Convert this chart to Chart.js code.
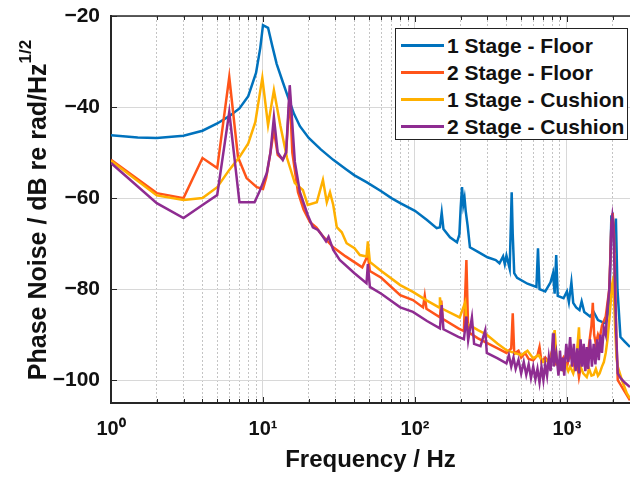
<!DOCTYPE html>
<html>
<head>
<meta charset="utf-8">
<script src="https://cdn.jsdelivr.net/npm/chart.js@4.4.0/dist/chart.umd.min.js"></script>
<style>
  html, body { margin: 0; padding: 0; background: #fff; }
  #wrap { position: relative; width: 630px; height: 477px; overflow: hidden; font-family: "Liberation Sans", Arial, sans-serif; }
  #ytitle { position: absolute; width: 440px; height: 30px; line-height: 30px; left: -183px; top: 195px;
            transform: rotate(-90deg); text-align: center; font-weight: bold; font-size: 25px; color: #111; white-space: nowrap; }
  #ytitle span { font-size: 17px; position: relative; top: -15px; }
  #legend { position: absolute; left: 395px; top: 28px; width: 231px; height: 110px; border: 1px solid #222; background: #fff; }
  .sw { position: absolute; left: 5px; width: 43px; height: 3px; }
  .lt { position: absolute; left: 51px; height: 27px; line-height: 27px; font-weight: bold; font-size: 21px; color: #111; white-space: nowrap; }
</style>
</head>
<body>
<div id="wrap">
  <canvas id="chart" width="630" height="477"></canvas>
  <div id="ytitle">Phase Noise / dB re rad/Hz<span>1/2</span></div>
  <div id="legend"></div>
</div>
<script>
// --- data ---
const seriesNames = ['1 Stage - Floor', '2 Stage - Floor', '1 Stage - Cushion', '2 Stage - Cushion'];
const seriesColors = ['#0072BD', '#FF5419', '#FFB000', '#8E2C91'];

const xTickValues = [1, 10, 100, 1000];
const xTickLabels = ['10\u2070', '10\u00B9', '10\u00B2', '10\u00B3'];
const xMinorValues = [2, 3, 4, 5, 6, 7, 8, 9, 20, 30, 40, 50, 60, 70, 80, 90, 200, 300, 400, 500, 600, 700, 800, 900, 2000];
const yTickValues = [-100, -80, -60, -40, -20];

// 1 Stage - Floor
const freq1 = [1, 1.5, 2, 3, 4, 5, 6, 7, 8, 9, 9.6, 10, 10.8, 11.5, 12.3, 13.5, 14.5, 16, 17.5, 20, 24, 29, 35, 40, 48, 60, 70, 80, 100, 120, 139, 146, 150, 154, 170, 189, 196, 200, 204, 208, 212, 216, 222, 230, 260, 300, 340, 360, 380, 390, 400, 420, 433, 440, 450, 470, 550, 630, 645, 660, 720, 780, 810, 830, 850, 870, 950, 1000, 1030, 1070, 1100, 1150, 1210, 1250, 1300, 1420, 1500, 1600, 1700, 1800, 1900, 1960, 2000, 2050, 2100, 2150, 2250, 2400, 2600];
const val1 = [-46.2, -46.7, -46.8, -46.3, -45.2, -43.6, -42.0, -40.3, -37.6, -32.5, -27, -22, -22.6, -26.5, -30.5, -34.5, -37.5, -41.5, -44.2, -46.8, -49.3, -51.6, -53.6, -55, -56.5, -58.5, -60, -61.1, -62.8, -64.8, -66.6, -66.4, -63.2, -66.8, -68.6, -69.7, -68, -62, -57.6, -61.5, -60, -63, -66, -70.8, -71.8, -73, -73.6, -74.3, -72.8, -74.5, -72.6, -75.5, -58.7, -68, -76.5, -77.5, -78.8, -79.5, -71, -80, -80.5, -78.5, -76.5, -81, -72.5, -81.5, -82, -80.5, -82.8, -78.5, -83, -84, -84.6, -82.7, -85, -86, -85, -86.8, -87.2, -87.5, -84, -64, -63.7, -72, -64.5, -80, -90.5, -91.5, -92.7];

// 2 Stage - Floor
const freq2 = [1, 2, 3, 4, 5, 6, 6.85, 7.8, 9.1, 10, 10.5, 11.2, 11.8, 12.5, 13.5, 14.2, 15, 15.6, 17, 18.5, 20.4, 22.5, 24.4, 29, 35, 45, 49, 50.5, 60, 80, 97, 113, 116, 119, 146, 149, 152, 193, 210, 218, 224, 260, 297, 350, 400, 430, 440, 450, 480, 500, 530, 560, 600, 640, 660, 680, 720, 760, 800, 850, 900, 950, 1000, 1050, 1100, 1150, 1200, 1250, 1300, 1350, 1400, 1450, 1480, 1510, 1550, 1600, 1640, 1700, 1800, 1900, 1960, 2000, 2040, 2080, 2120, 2160, 2400, 2600];
const val2 = [-51.6, -58.9, -60, -51.2, -53.4, -33.4, -51, -55.6, -57.6, -58, -55.5, -50, -45, -50.5, -51.5, -50, -37, -50, -58.7, -62.5, -65.3, -66.5, -68.1, -70.8, -72.8, -75.2, -72.5, -76, -77.5, -81.3, -82.4, -84, -81.5, -84.3, -86.2, -82.5, -86.5, -88.6, -89.2, -73.6, -89.4, -90.8, -91.8, -93, -94, -93, -85.3, -94.2, -93.5, -95, -94, -95.3, -95.6, -94.5, -92.7, -96, -95, -96, -93.5, -96.5, -96.3, -95, -97, -94, -96.5, -94.5, -99.3, -96, -94, -96.5, -92, -88, -83, -90, -92, -90, -91, -88, -86, -80, -66, -63.3, -68, -80, -92, -100, -102.5, -104.4];

// 1 Stage - Cushion
const freq3 = [1, 2, 3, 4, 5, 6, 7, 8, 8.9, 9.9, 10.8, 11.8, 13, 14.4, 16.2, 18.3, 19.7, 22.6, 24.8, 26.3, 27.6, 29, 30.6, 33, 35.5, 40, 43.4, 48, 49, 50.5, 60, 80, 97, 120, 144, 146, 149, 197, 214, 218, 260, 297, 350, 400, 450, 500, 550, 600, 650, 700, 730, 780, 830, 860, 900, 940, 980, 1020, 1050, 1100, 1150, 1200, 1230, 1280, 1350, 1400, 1450, 1500, 1550, 1600, 1640, 1700, 1750, 1800, 1850, 1900, 1940, 1980, 2010, 2040, 2080, 2120, 2160, 2300, 2480, 2600];
const val3 = [-51.8, -59.4, -60.4, -60, -57.6, -53.8, -51, -48, -43.3, -33.6, -44, -36.3, -44, -51.2, -56.7, -58.2, -61.5, -60.9, -56, -60.9, -58.7, -61.5, -66.4, -67.5, -69.9, -71, -72.5, -72.8, -69.5, -74, -76, -79.1, -80.6, -82.5, -84, -81.8, -84.2, -86.2, -82.9, -87.5, -89, -90, -92, -93.4, -94, -94.5, -93.5, -95.2, -94.5, -96, -95.6, -96.5, -89, -96.5, -97, -97.8, -96.5, -98, -97, -98.5, -96, -88.4, -97, -98.5, -99.3, -97.5, -99, -98.8, -97.5, -99, -98.5, -97, -96, -94, -91, -86.8, -83, -79, -78, -82, -89, -95, -97, -100, -102.9, -104];

// 2 Stage - Cushion
const freq4 = [1, 2, 3, 4, 5, 6, 7, 8.8, 9.5, 10.6, 11.2, 11.8, 12.5, 13.5, 14.2, 15, 16.2, 17.5, 19.7, 21.3, 23, 24.4, 26, 27, 29, 32, 40, 48, 49, 50.5, 60, 80, 97, 120, 146, 150, 154, 193, 210, 218, 224, 237, 245, 270, 290, 297, 350, 400, 415, 430, 445, 460, 480, 500, 520, 540, 560, 580, 600, 620, 640, 660, 680, 700, 720, 740, 760, 780, 800, 810, 820, 850, 880, 900, 920, 940, 960, 990, 1020, 1050, 1080, 1110, 1140, 1170, 1200, 1230, 1260, 1290, 1320, 1350, 1380, 1420, 1460, 1500, 1540, 1580, 1620, 1660, 1700, 1750, 1800, 1850, 1900, 1930, 1960, 1990, 2020, 2050, 2080, 2110, 2160, 2250, 2400, 2600];
const val4 = [-52.3, -61.1, -64.4, -61.5, -59.3, -41.1, -60.9, -60.9, -58.5, -54.5, -50, -42.2, -50, -51.6, -50, -35.2, -52, -58.7, -63.7, -66.4, -67, -68.1, -69.5, -68.5, -71.4, -73.6, -76.5, -78.7, -74.5, -79.5, -81, -84, -85, -87, -88.6, -83.5, -88.8, -90.5, -91, -86, -91.2, -86.2, -92, -92.5, -89, -94, -95.2, -96.3, -94.5, -97, -95, -97.5, -95.5, -98.5, -96, -98.8, -96.5, -99.5, -97, -99.8, -97.5, -100.5, -97, -100, -96.5, -99, -95, -98, -93, -89.7, -97, -94, -99, -93.5, -98, -95, -99, -92, -96, -90.5, -97, -92, -98, -93, -98.5, -91, -97, -92, -98, -92.7, -97.5, -91, -97, -92, -96.5, -91, -95.6, -90, -94, -88.5, -90, -84, -80, -74, -66, -64, -66, -74, -82, -90, -98.5, -99.5, -100.5, -101.5];

const allFreqs = [freq1, freq2, freq3, freq4];
const allVals = [val1, val2, val3, val4];

const FONT = '"Liberation Sans", Arial, sans-serif';
const INK = '#111';

function toPoints(fs, vs) {
    return fs.map((f, i) => ({ x: f, y: vs[i] }));
}

// purple drawn on top, blue at the bottom
const datasets = seriesNames.map((name, i) => ({
    label: name,
    data: toPoints(allFreqs[i], allVals[i]),
    borderColor: seriesColors[i],
    backgroundColor: seriesColors[i],
    borderWidth: 2.5,
    pointRadius: 0,
    tension: 0,
    order: 4 - i
}));

// frame on top + inward tick marks like the original
const framePlugin = {
    id: 'frame',
    afterDraw(chart) {
        const { ctx, chartArea: a, scales } = chart;
        ctx.save();
        ctx.strokeStyle = '#262626';
        ctx.lineWidth = 1.5;
        ctx.beginPath();
        ctx.moveTo(a.left, a.top); ctx.lineTo(a.right, a.top);
        ctx.stroke();
        ctx.lineWidth = 1;
        ctx.beginPath();
        xTickValues.concat(xMinorValues).forEach(f => {
            const px = Math.round(scales.x.getPixelForValue(f)) + 0.5;
            const len = xTickValues.includes(f) ? 6 : 4;
            ctx.moveTo(px, a.bottom); ctx.lineTo(px, a.bottom - len);
            ctx.moveTo(px, a.top); ctx.lineTo(px, a.top + len);
        });
        yTickValues.forEach(v => {
            const py = Math.round(scales.y.getPixelForValue(v)) + 0.5;
            ctx.moveTo(a.left, py); ctx.lineTo(a.left + 6, py);
        });
        ctx.stroke();
        ctx.restore();
    }
};

new Chart(document.getElementById('chart'), {
    type: 'line',
    data: { datasets: datasets },
    plugins: [framePlugin],
    options: {
        responsive: false,
        animation: false,
        layout: { padding: { top: 16, right: 0, left: 0, bottom: 0 } },
        plugins: { legend: { display: false }, tooltip: { enabled: false } },
        scales: {
            x: {
                type: 'logarithmic',
                min: 1,
                max: 2600,
                afterBuildTicks: s => { s.ticks = xTickValues.map(v => ({ value: v, major: true })); },
                afterFit: s => { s.height = 74; s.paddingLeft = 0; s.paddingRight = 0; },
                ticks: {
                    autoSkip: false,
                    maxRotation: 0,
                    padding: 14,
                    color: INK,
                    font: { family: FONT, size: 20, weight: 'bold' },
                    callback: v => xTickLabels[xTickValues.indexOf(v)] || ''
                },
                grid: { color: '#d8d8d8', lineWidth: 1, drawTicks: false },
                border: { display: true, color: '#262626', width: 2 },
                title: {
                    display: true,
                    text: 'Frequency / Hz',
                    color: INK,
                    font: { family: FONT, size: 24, weight: 'bold' },
                    padding: { top: 0, bottom: 2 }
                }
            },
            xMinor: {
                type: 'logarithmic',
                position: 'bottom',
                min: 1,
                max: 2600,
                afterBuildTicks: s => { s.ticks = xMinorValues.map(v => ({ value: v })); },
                afterFit: s => { s.height = 0; s.paddingLeft = 0; s.paddingRight = 0; },
                ticks: { display: false },
                grid: { color: '#c4c4c4', lineWidth: 1, drawTicks: false },
                border: { display: false, dash: [2, 2] }
            },
            y: {
                type: 'linear',
                min: -105,
                max: -20,
                afterBuildTicks: s => { s.ticks = yTickValues.map(v => ({ value: v })); },
                afterFit: s => { s.width = 111; s.paddingTop = 0; s.paddingBottom = 0; },
                ticks: {
                    padding: 11,
                    color: INK,
                    font: { family: FONT, size: 21, weight: 'bold' },
                    callback: v => '\u2212' + Math.abs(v)
                },
                grid: { color: '#d8d8d8', lineWidth: 1, drawTicks: false },
                border: { display: true, color: '#262626', width: 2 }
            }
        }
    }
});

// legend box, same names and colours as the datasets
const legend = document.getElementById('legend');
seriesNames.forEach((name, i) => {
    const yc = 16 + i * 27;
    const sw = document.createElement('div');
    sw.className = 'sw';
    sw.style.top = (yc - 1.5) + 'px';
    sw.style.background = seriesColors[i];
    const lt = document.createElement('div');
    lt.className = 'lt';
    lt.style.top = (yc - 13.5) + 'px';
    lt.textContent = name;
    legend.appendChild(sw);
    legend.appendChild(lt);
});
</script>
</body>
</html>
